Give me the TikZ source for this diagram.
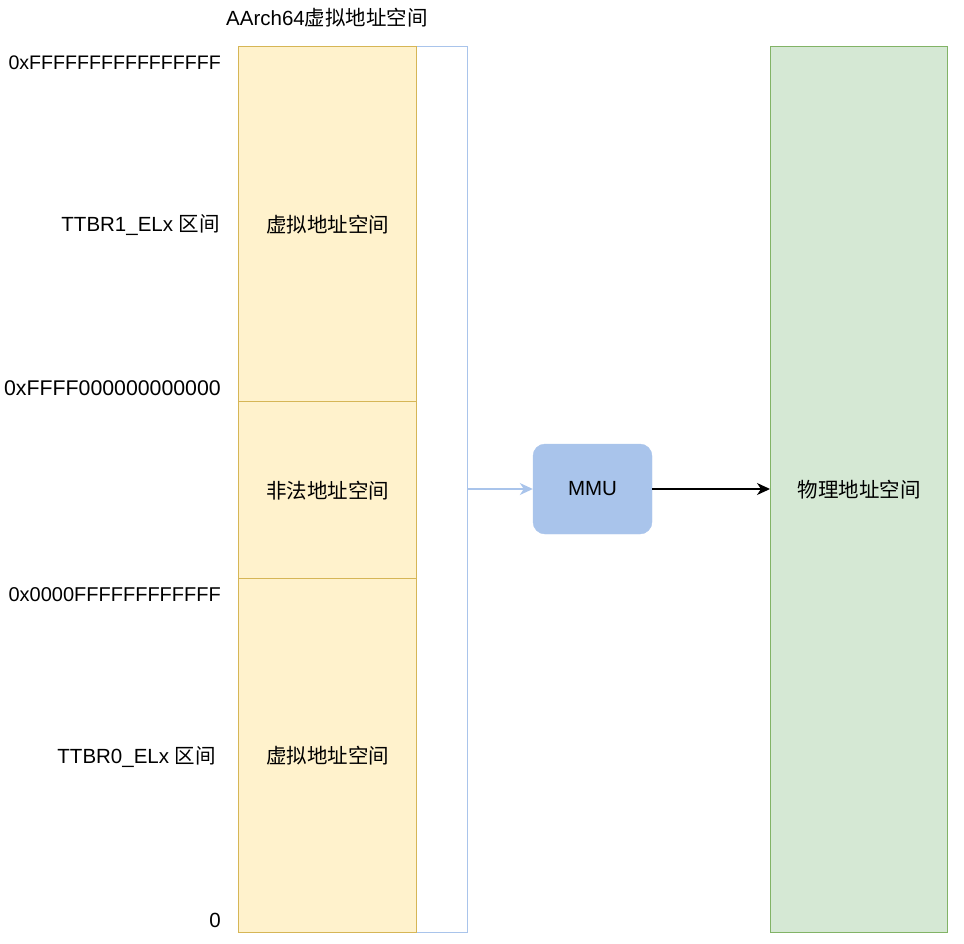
\documentclass[tikz,border=0pt]{standalone}
\usepackage{fontspec}
\setmainfont{Liberation Sans}
\newfontfamily\cjkfont{Noto Sans CJK SC}
\usetikzlibrary{arrows.meta}
\definecolor{segfill}{HTML}{FFF2CC}
\definecolor{segline}{HTML}{D6B656}
\definecolor{bluel}{HTML}{A9C4EB}
\definecolor{greenfill}{HTML}{D5E8D4}
\definecolor{greenline}{HTML}{82B366}
\begin{document}
\begin{tikzpicture}[x=1pt,y=-1pt,
  font=\fontsize{20.5}{24}\selectfont,
  seg/.style={draw=segline,fill=segfill,line width=1.3pt,minimum width=178pt,anchor=north west,inner sep=0pt},
  lbl/.style={anchor=east,inner sep=0pt},
  tip/.style={-{Stealth[length=13pt,width=12pt,inset=4pt]}}]
\useasboundingbox (0,0) rectangle (964,943);
\node[draw=bluel,line width=1.3pt,minimum width=229pt,minimum height=886pt,anchor=north west,inner sep=0pt] (vas) at (238,46) {};
\node[seg,minimum height=355pt] (top) at (238,46) {\cjkfont 虚拟地址空间};
\node[seg,minimum height=177pt] (mid) at (238,401) {\cjkfont 非法地址空间};
\node[seg,minimum height=354pt] (bot) at (238,578) {\cjkfont 虚拟地址空间};
\node[draw=greenline,fill=greenfill,line width=1.3pt,minimum width=177pt,minimum height=886pt,anchor=north west,inner sep=0pt] (phys) at (770,46) {\cjkfont 物理地址空间};
\node[draw=bluel,fill=bluel,rounded corners=12pt,minimum width=119pt,minimum height=90pt,inner sep=0pt] (mmu) at (592.5,489) {MMU};
\node[inner sep=0pt] (title) at (327,18) {AArch64{\cjkfont 虚拟地址空间}};
\node[lbl,font=\fontsize{19.6}{24}\selectfont] (a1) at (221,63) {0xFFFFFFFFFFFFFFFF};
\node[lbl] (a2) at (220,225) {TTBR1\_ELx {\cjkfont 区间}};
\node[lbl,font=\fontsize{21.3}{24}\selectfont] (a3) at (221,388) {0xFFFF000000000000};
\node[lbl,font=\fontsize{20}{24}\selectfont] (a4) at (221,595) {0x0000FFFFFFFFFFFF};
\node[lbl] (a5) at (216,757) {TTBR0\_ELx {\cjkfont 区间}};
\node[lbl] (a6) at (221,920) {0};
\draw[tip,draw=bluel,fill=bluel,line width=1.3pt] (vas.east |- mmu.west) -- (mmu.west);
\draw[tip,draw=black,fill=black,line width=1.3pt] (mmu.east) -- (mmu.east -| phys.west);
\end{tikzpicture}
\end{document}
